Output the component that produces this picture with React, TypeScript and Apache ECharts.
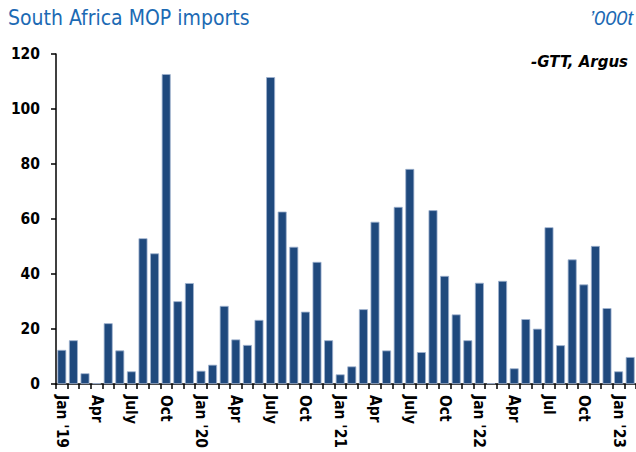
import React, { useEffect, useRef } from "react";
import * as echarts from "echarts";

const categories = [
  "Jan '19", "Feb '19", "Mar '19", "Apr '19", "May '19", "Jun '19", "Jul '19", "Aug '19", "Sep '19", "Oct '19", "Nov '19", "Dec '19",
  "Jan '20", "Feb '20", "Mar '20", "Apr '20", "May '20", "Jun '20", "Jul '20", "Aug '20", "Sep '20", "Oct '20", "Nov '20", "Dec '20",
  "Jan '21", "Feb '21", "Mar '21", "Apr '21", "May '21", "Jun '21", "Jul '21", "Aug '21", "Sep '21", "Oct '21", "Nov '21", "Dec '21",
  "Jan '22", "Feb '22", "Mar '22", "Apr '22", "May '22", "Jun '22", "Jul '22", "Aug '22", "Sep '22", "Oct '22", "Nov '22", "Dec '22",
  "Jan '23", "Feb '23",
];

const imports = [
  12.4, 15.9, 3.9, 0.3, 22.1, 12.2, 4.6, 53.0, 47.5, 112.7, 30.1, 36.7,
  4.8, 7.0, 28.4, 16.2, 14.2, 23.3, 111.6, 62.7, 49.9, 26.3, 44.4, 15.9,
  3.5, 6.4, 27.2, 59.0, 12.2, 64.4, 78.2, 11.6, 63.2, 39.3, 25.3, 15.9,
  36.8, 0.3, 37.5, 5.7, 23.6, 20.1, 57.0, 14.1, 45.3, 36.2, 50.2, 27.6,
  4.6, 9.8,
];

// shown every third month
const tickLabels = [
  "Jan '19", "Apr", "July", "Oct",
  "Jan '20", "Apr", "July", "Oct",
  "Jan '21", "Apr", "July", "Oct",
  "Jan '22", "Apr", "Jul", "Oct",
  "Jan '23",
];

const titleText = "South Africa MOP imports";
const unitText = "\u2019000t";
const sourceText = "-GTT, Argus";

const FONT = "'DejaVu Sans Condensed', 'DejaVu Sans', sans-serif";
const FONT_WIDE = "'DejaVu Sans', sans-serif";

export default function App() {
  const ref = useRef<HTMLDivElement>(null);

  useEffect(() => {
    if (!ref.current) return;
    const chart = echarts.init(ref.current, null, { renderer: "svg" });
    chart.setOption({
      animation: false,
      backgroundColor: "#ffffff",
      grid: { left: 56, right: -6, top: 54, bottom: 68, containLabel: false },
      xAxis: {
        type: "category",
        data: categories,
        boundaryGap: true,
        axisLine: { show: true, lineStyle: { color: "#000", width: 1.5 } },
        axisTick: { show: true, interval: 0, length: 5, lineStyle: { color: "#000", width: 1.5 } },
        axisLabel: {
          interval: 0,
          rotate: -90,
          margin: 11,
          color: "#000",
          fontFamily: FONT,
          fontWeight: "bold",
          fontSize: 15.5,
          formatter: (_v: string, i: number) => (i % 3 === 0 ? tickLabels[i / 3] ?? "" : ""),
        },
        splitLine: { show: false },
      },
      yAxis: {
        type: "value",
        min: 0,
        max: 120,
        interval: 20,
        axisLine: { show: true, lineStyle: { color: "#000", width: 1.5 } },
        axisTick: { show: true, length: 5, lineStyle: { color: "#000", width: 1.5 } },
        axisLabel: {
          margin: 16,
          color: "#000",
          fontFamily: FONT,
          fontWeight: "bold",
          fontSize: 15.5,
        },
        splitLine: { show: false },
      },
      series: [
        {
          type: "bar",
          data: imports,
          barCategoryGap: "23%",
          itemStyle: {
            color: "#1f497d",
            borderColor: "#9fb3cf",
            borderWidth: 0.8,
          },
        },
      ],
      graphic: [
        {
          type: "text",
          left: 8,
          top: 7,
          style: {
            text: titleText,
            fill: "#1c6ab4",
            font: `21px ${FONT}`,
          },
        },
        {
          type: "text",
          right: 3,
          top: 8,
          style: {
            text: unitText,
            fill: "#1c6ab4",
            font: `italic 20px 'Liberation Sans Narrow', 'Liberation Sans', sans-serif`,
          },
        },
        {
          type: "text",
          right: 8,
          top: 54,
          style: {
            text: sourceText,
            fill: "#000",
            font: `italic bold 15px ${FONT_WIDE}`,
          },
        },
      ],
    });
    return () => chart.dispose();
  }, []);

  return (
    <div
      ref={ref}
      style={{ position: "fixed", left: 0, top: 0, width: 636, height: 452, overflow: "hidden" }}
    />
  );
}
